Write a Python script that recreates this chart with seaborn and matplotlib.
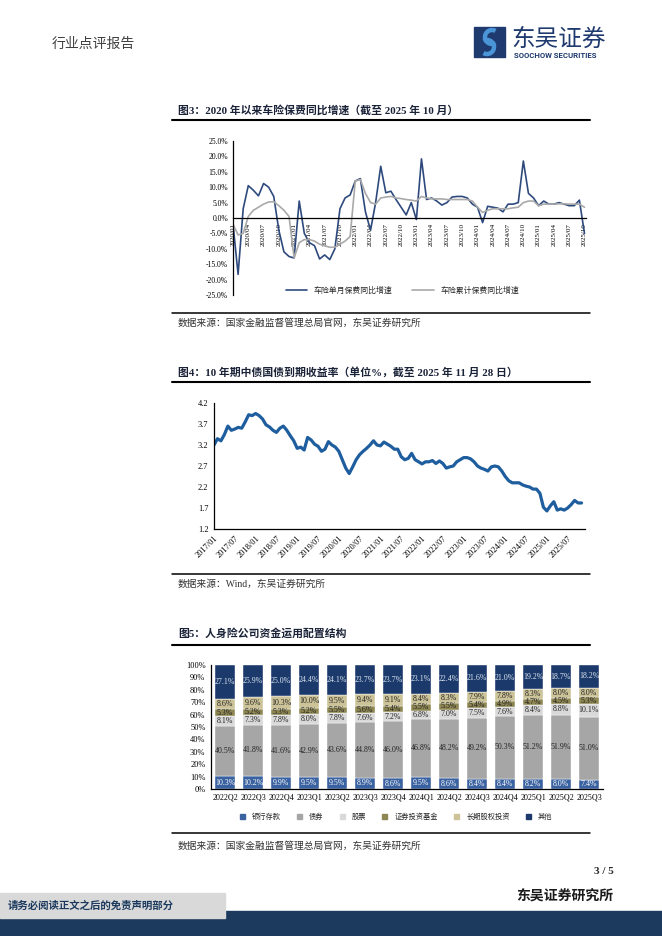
import matplotlib
matplotlib.use("Agg")
import matplotlib.pyplot as plt
from matplotlib.patches import Rectangle, Arc, Patch
import seaborn as sns
import pandas as pd

# ---------------- data ----------------
# 图3 车险保费同比增速，2020/01 - 2025/10（%）
auto_months = [f"{y}/{m:02d}" for y in range(2020, 2026) for m in range(1, 13)][:70]
auto_single = [-2, -18.3, 3, 10.5, 9, 7.2, 11.2, 10, 7, -4, -11, -12.5,
               -13, 5.5, -5, -8, -9, -13.3, -12, -13.5, -10, 3, 6.5, 7.5,
               12, 12.8, 2, -4, 5, 16.8, 8.2, 8.7, 6, 3.5, 1.0, 5.0,
               -0.5, 19.2, 6.0, 6.5, 5.5, 4.2, 5, 6.8, 7, 7, 6.5, 4.5,
               3.5, -1.5, 3.8, 3.5, 3.2, 2, 4.5, 4.5, 5, 18.5, 8, 6.5,
               4, 5.5, 4.5, 4.5, 5, 4.5, 4, 4, 5.8, -5]
auto_cum = [-2, -5.5, -5, 0.5, 2.5, 3.5, 4.5, 5.2, 5.3, 4, 2.5, 0.5,
            -13, -8, -7, -7, -7.5, -8.5, -9, -9.5, -9.5, -8.5, -7.5, -6,
            12, 12.5, 8, 5, 4.5, 6.5, 6.8, 7, 6.5, 6.3, 6, 5.8,
            5.5, 7, 6.5, 6.2, 6.2, 6.2, 6, 6, 6, 6, 6, 5.5,
            3.5, 1.8, 2.5, 3, 3, 3, 3, 3.3, 3.5, 5, 5.5, 5.5,
            4, 4.5, 4.5, 4.5, 4.6, 4.6, 4.5, 4.5, 4.5, 3.5]

# 图4 10年期国债到期收益率，2017/01 - 2025/11（月度，%）
bond_months = [f"{y}/{m:02d}" for y in range(2017, 2026) for m in range(1, 13)][:107]
bond_yield = [3.2, 3.35, 3.3, 3.45, 3.65, 3.55, 3.58, 3.62, 3.6, 3.75, 3.92, 3.9,
              3.95, 3.9, 3.82, 3.68, 3.63, 3.55, 3.5, 3.6, 3.65, 3.55, 3.42, 3.3,
              3.12, 3.15, 3.08, 3.38, 3.32, 3.22, 3.17, 3.05, 3.1, 3.28, 3.2, 3.15,
              3.05, 2.85, 2.65, 2.52, 2.68, 2.85, 2.97, 3.05, 3.12, 3.2, 3.3, 3.2,
              3.18, 3.27, 3.22, 3.17, 3.1, 3.1, 2.92, 2.85, 2.88, 3.0, 2.85, 2.8,
              2.75, 2.8, 2.8, 2.83, 2.76, 2.82, 2.76, 2.65, 2.68, 2.7, 2.8, 2.85,
              2.9, 2.9, 2.87, 2.8, 2.7, 2.65, 2.62, 2.58, 2.68, 2.7, 2.68, 2.58,
              2.45, 2.35, 2.3, 2.3, 2.3, 2.25, 2.22, 2.2, 2.15, 2.15, 2.05, 1.72,
              1.63, 1.75, 1.85, 1.65, 1.68, 1.65, 1.7, 1.78, 1.88, 1.82, 1.82]

# 图5 人身险公司资金运用配置结构（%）
quarters = ["2022Q2", "2022Q3", "2022Q4", "2023Q1", "2023Q2", "2023Q3", "2023Q4",
            "2024Q1", "2024Q2", "2024Q3", "2024Q4", "2025Q1", "2025Q2", "2025Q3"]
deposit = [10.3, 10.2, 9.9, 9.5, 9.5, 8.9, 8.6, 9.5, 8.6, 8.4, 8.4, 8.2, 8.0, 7.4]
bonds = [40.5, 41.8, 41.6, 42.9, 43.6, 44.8, 46.0, 46.8, 48.2, 49.2, 50.3, 51.2, 51.9, 51.0]
stocks = [8.1, 7.3, 7.8, 8.0, 7.8, 7.6, 7.2, 6.8, 7.0, 7.5, 7.6, 8.4, 8.8, 10.1]
funds = [5.3, 5.2, 5.3, 5.2, 5.5, 5.6, 5.4, 5.5, 5.5, 5.4, 4.9, 4.7, 4.5, 5.3]
equity = [8.6, 9.6, 10.3, 10.0, 9.5, 9.4, 9.1, 8.4, 8.3, 7.9, 7.8, 8.3, 8.0, 8.0]
others = [27.1, 25.9, 25.0, 24.4, 24.1, 23.7, 23.7, 23.1, 22.4, 21.6, 21.0, 19.2, 18.7, 18.2]
alloc_names = ["银行存款", "债券", "股票", "证券投资基金", "长期股权投资", "其他"]
alloc_colors = ["#3A62A0", "#A6A6A6", "#D9D9D9", "#8E8653", "#CCC398", "#1B3A6B"]
label_colors = ["white", "#222222", "#222222", "#222222", "#222222", "#DDE6F2"]

# ---------------- setup ----------------
sns.set_style("white")
plt.rcParams["font.family"] = ["Liberation Serif", "Noto Sans CJK SC"]
plt.rcParams["axes.unicode_minus"] = False

W, H = 662, 936
fig = plt.figure(figsize=(W / 100, H / 100), dpi=100)


def box(l, t, r, b):
    return [l / W, 1 - b / H, (r - l) / W, (b - t) / H]


# page layer in pixel coordinates
page = fig.add_axes([0, 0, 1, 1])
page.set_xlim(0, W)
page.set_ylim(H, 0)
page.axis("off")

navy = "#1B3A5E"
page.text(52, 44, "行业点评报告", fontsize=10, color="#404040", va="center")
# logo
page.add_patch(Rectangle((474, 27), 31, 30, color="#1F3A6E"))
page.add_patch(Arc((492, 37), 14, 14, theta1=60, theta2=300, color="#4A95D8", lw=3.2))
page.add_patch(Arc((487, 47), 14, 14, theta1=240, theta2=120, color="#4A95D8", lw=3.2))
page.text(511, 39, "东吴证券", fontsize=17, color="#1F3A6E", va="center",
          family=["Noto Sans CJK SC"])
page.text(514, 55, "SOOCHOW SECURITIES", fontsize=5.6, color="#1F3A6E", va="center",
          family=["Roboto"], fontweight="bold")

titles = [(110, "图3：2020 年以来车险保费同比增速（截至 2025 年 10 月）"),
          (372, "图4：10 年期中债国债到期收益率（单位%，截至 2025 年 11 月 28 日）"),
          (633, "图5：人身险公司资金运用配置结构")]
for y, t in titles:
    page.text(178, y, t, fontsize=7.8, fontweight="bold", color="#1A2238", va="center")
for y in [120, 382, 645]:
    page.plot([172, 590], [y, y], color="black", lw=1.5)
for y in [313, 574, 833]:
    page.plot([172, 590], [y, y], color="black", lw=1.1)
sources = [(323, "数据来源：国家金融监督管理总局官网，东吴证券研究所"),
           (584, "数据来源：Wind，东吴证券研究所"),
           (846, "数据来源：国家金融监督管理总局官网，东吴证券研究所")]
for y, t in sources:
    page.text(178, y, t, fontsize=7, color="#333333", va="center")

page.text(614, 872, "3 / 5", fontsize=8, fontweight="bold", ha="right", va="center")
page.text(613, 897, "东吴证券研究所", fontsize=10, fontweight="bold", ha="right",
          va="center", color="#1A1A1A")
page.add_patch(Rectangle((0, 911), W, 25, color=navy))
page.add_patch(Rectangle((0, 893), 225, 25, color="#D9D9D9"))
page.text(8, 906, "请务必阅读正文之后的免责声明部分", fontsize=7.5, fontweight="bold",
          color=navy, va="center")

# ---------------- 图3 ----------------
ax1 = fig.add_axes(box(233, 141, 586, 295))
df1 = pd.DataFrame({"m": range(len(auto_months)), "single": auto_single, "cum": auto_cum})
sns.lineplot(data=df1, x="m", y="single", ax=ax1, color="#2E4A7D", lw=1.2,
             label="车险单月保费同比增速")
sns.lineplot(data=df1, x="m", y="cum", ax=ax1, color="#A9A9A9", lw=1.2,
             label="车险累计保费同比增速")
# spine position first: moving it resets the tick labels
ax1.spines["bottom"].set_position(("data", 0))
for s in ["top", "right"]:
    ax1.spines[s].set_visible(False)
for s in ["left", "bottom"]:
    ax1.spines[s].set_color("black")
    ax1.spines[s].set_linewidth(0.9)
ax1.set_xlim(0, 69.3)
ax1.set_ylim(-25, 25)
ax1.set_yticks(range(-25, 26, 5))
ax1.set_yticklabels([f"{v:.1f}%" for v in range(-25, 26, 5)], fontsize=5.5)
ax1.set_xticks(range(0, 70, 3))
ax1.set_xticklabels(auto_months[::3], rotation=90, fontsize=5)
ax1.tick_params(axis="both", length=2, width=0.6, pad=1.5, colors="black")
ax1.set_xlabel("")
ax1.set_ylabel("")
ax1.legend(loc="center", bbox_to_anchor=(0.48, 0.03), ncol=2, frameon=False,
           fontsize=5.7, handlelength=2.7, columnspacing=2.5)

# ---------------- 图4 ----------------
ax2 = fig.add_axes(box(214, 403, 585, 529))
df2 = pd.DataFrame({"m": range(len(bond_months)), "y": bond_yield})
sns.lineplot(data=df2, x="m", y="y", ax=ax2, color="#1F5E9E", lw=2.3)
ax2.set_xlim(0, 107)
ax2.set_ylim(1.2, 4.2)
ax2.set_yticks([1.2, 1.7, 2.2, 2.7, 3.2, 3.7, 4.2])
ax2.set_yticklabels(["1.2", "1.7", "2.2", "2.7", "3.2", "3.7", "4.2"], fontsize=6)
ax2.set_xticks(range(0, 107, 6))
ax2.set_xticklabels(bond_months[::6], rotation=45, ha="right", rotation_mode="anchor",
                    fontsize=6)
for s in ["top", "right"]:
    ax2.spines[s].set_visible(False)
for s in ["left", "bottom"]:
    ax2.spines[s].set_color("black")
    ax2.spines[s].set_linewidth(0.9)
ax2.tick_params(axis="both", length=2, width=0.6, pad=2, colors="black")
ax2.set_xlabel("")
ax2.set_ylabel("")

# ---------------- 图5 ----------------
ax3 = fig.add_axes(box(211, 665, 603, 789))
series = [deposit, bonds, stocks, funds, equity, others]
bottom = [0.0] * len(quarters)
xs = list(range(len(quarters)))
for vals, name, col, lc in zip(series, alloc_names, alloc_colors, label_colors):
    ax3.bar(xs, vals, bottom=bottom, width=0.72, color=col, label=name,
            edgecolor="white", linewidth=0.3)
    for x, v, b in zip(xs, vals, bottom):
        ax3.text(x, b + v / 2, f"{v:.1f}%", ha="center", va="center", fontsize=5.7,
                 color=lc)
    bottom = [b + v for b, v in zip(bottom, vals)]
ax3.set_xlim(-0.5, 13.5)
ax3.set_ylim(0, 100)
ax3.set_yticks(range(0, 101, 10))
ax3.set_yticklabels([f"{v}%" for v in range(0, 101, 10)], fontsize=6)
ax3.set_xticks(xs)
ax3.set_xticklabels(quarters, fontsize=5.8)
for s in ["top", "right"]:
    ax3.spines[s].set_visible(False)
for s in ["left", "bottom"]:
    ax3.spines[s].set_color("black")
    ax3.spines[s].set_linewidth(0.9)
ax3.tick_params(axis="y", length=2, width=0.6, pad=2, colors="black")
ax3.tick_params(axis="x", length=0, pad=3, colors="black")
handles = [Patch(color=c) for c in alloc_colors]
fig.legend(handles, alloc_names, loc="center", bbox_to_anchor=(396 / W, 1 - 816 / H),
           ncol=6, frameon=False, fontsize=5.2, handlelength=0.7, handleheight=0.7,
           columnspacing=2.2, handletextpad=1.0)

fig.savefig("out.png", dpi=100)
